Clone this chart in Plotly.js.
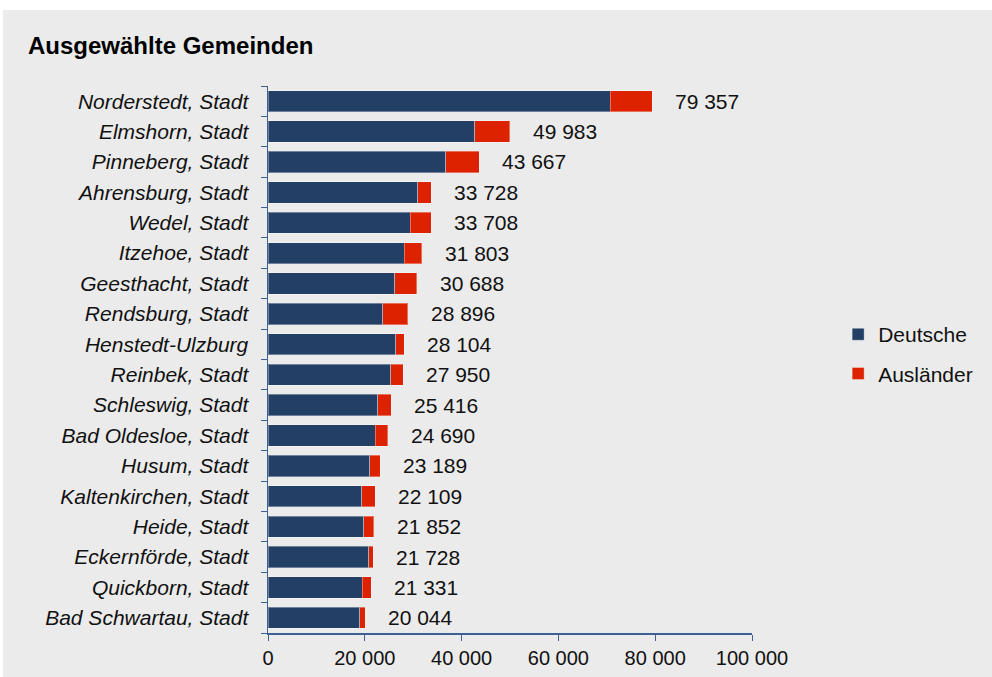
<!DOCTYPE html>
<html>
<head>
<meta charset="utf-8">
<script src="https://cdn.plot.ly/plotly-3.0.1.min.js"></script>
<style>
  html, body { margin: 0; padding: 0; background: #ffffff; }
  #chart { position: absolute; left: 3px; top: 10px; width: 989px; height: 667px; }
</style>
</head>
<body>
<div id="chart"></div>
<script>
const categories = [
  "Norderstedt, Stadt", "Elmshorn, Stadt", "Pinneberg, Stadt", "Ahrensburg, Stadt",
  "Wedel, Stadt", "Itzehoe, Stadt", "Geesthacht, Stadt", "Rendsburg, Stadt",
  "Henstedt-Ulzburg", "Reinbek, Stadt", "Schleswig, Stadt", "Bad Oldesloe, Stadt",
  "Husum, Stadt", "Kaltenkirchen, Stadt", "Heide, Stadt", "Eckernförde, Stadt",
  "Quickborn, Stadt", "Bad Schwartau, Stadt"
];
const totals = [79357, 49983, 43667, 33728, 33708, 31803, 30688, 28896, 28104,
  27950, 25416, 24690, 23189, 22109, 21852, 21728, 21331, 20044];
const deutsche = [70700, 42700, 36700, 30900, 29400, 28200, 26200, 23700, 26400,
  25400, 22700, 22200, 21000, 19400, 19800, 20800, 19500, 19000];
const auslaender = totals.map((t, i) => t - deutsche[i]);
const xTicks = [0, 20000, 40000, 60000, 80000, 100000];

function fmt(n) {
  return String(n).replace(/\B(?=(\d{3})+(?!\d))/g, " ");
}

const font = "Liberation Sans, Arial, sans-serif";
const axisColor = "#3f6191";

const traces = [
  {
    type: "bar", orientation: "h", name: "Deutsche",
    y: categories, x: deutsche,
    marker: { color: "#233f66", line: { color: "rgba(255,255,255,0.35)", width: 1 } },
    legendgroup: "a", hoverinfo: "x+name"
  },
  {
    type: "bar", orientation: "h", name: "Ausländer",
    y: categories, x: auslaender,
    marker: { color: "#dd2200", line: { color: "rgba(255,255,255,0.35)", width: 1 } },
    legendgroup: "b", hoverinfo: "x+name"
  }
];

const annotations = categories.map((c, i) => ({
  x: totals[i], y: c, xref: "x", yref: "y",
  text: fmt(totals[i]), showarrow: false,
  xanchor: "left", yanchor: "middle", xshift: 21,
  font: { family: font, size: 21, color: "#111111" }
}));

const layout = {
  width: 989, height: 667,
  paper_bgcolor: "#ebebeb", plot_bgcolor: "#ebebeb",
  margin: { l: 265, r: 240, t: 76, b: 44 },
  separators: ", ",
  barmode: "stack",
  bargap: 0.3,
  showlegend: true,
  title: {
    text: "<b>Ausgewählte Gemeinden</b>",
    xref: "container", yref: "container",
    x: 25 / 989, xanchor: "left",
    y: 1 - 36 / 667, yanchor: "middle",
    font: { family: font, size: 24, color: "#000000" }
  },
  xaxis: {
    range: [0, 100000],
    tickvals: xTicks,
    ticktext: xTicks.map(fmt),
    showgrid: false, zeroline: false,
    showline: true, linecolor: axisColor, linewidth: 1.5,
    ticks: "outside", ticklen: 6, tickcolor: axisColor, tickwidth: 1,
    tickfont: { family: font, size: 20, color: "#111111" },
    fixedrange: true
  },
  yaxis: {
    type: "category",
    categoryorder: "array",
    categoryarray: categories.slice().reverse(),
    autorange: true,
    showgrid: false, zeroline: false,
    showline: true, linecolor: axisColor, linewidth: 1.5,
    ticks: "outside", ticklen: 6, tickcolor: axisColor, tickwidth: 1,
    tickson: "boundaries",
    ticklabelstandoff: 14,
    tickfont: { family: font, size: 21, color: "#111111", style: "italic" },
    fixedrange: true
  },
  legend: {
    x: 1.178, xanchor: "left",
    y: 0.583, yanchor: "top",
    traceorder: "grouped",
    tracegroupgap: 9,
    bgcolor: "rgba(0,0,0,0)",
    font: { family: font, size: 21, color: "#111111" }
  },
  annotations: annotations
};

Plotly.newPlot("chart", traces, layout, { displayModeBar: false, staticPlot: true });
</script>
</body>
</html>
